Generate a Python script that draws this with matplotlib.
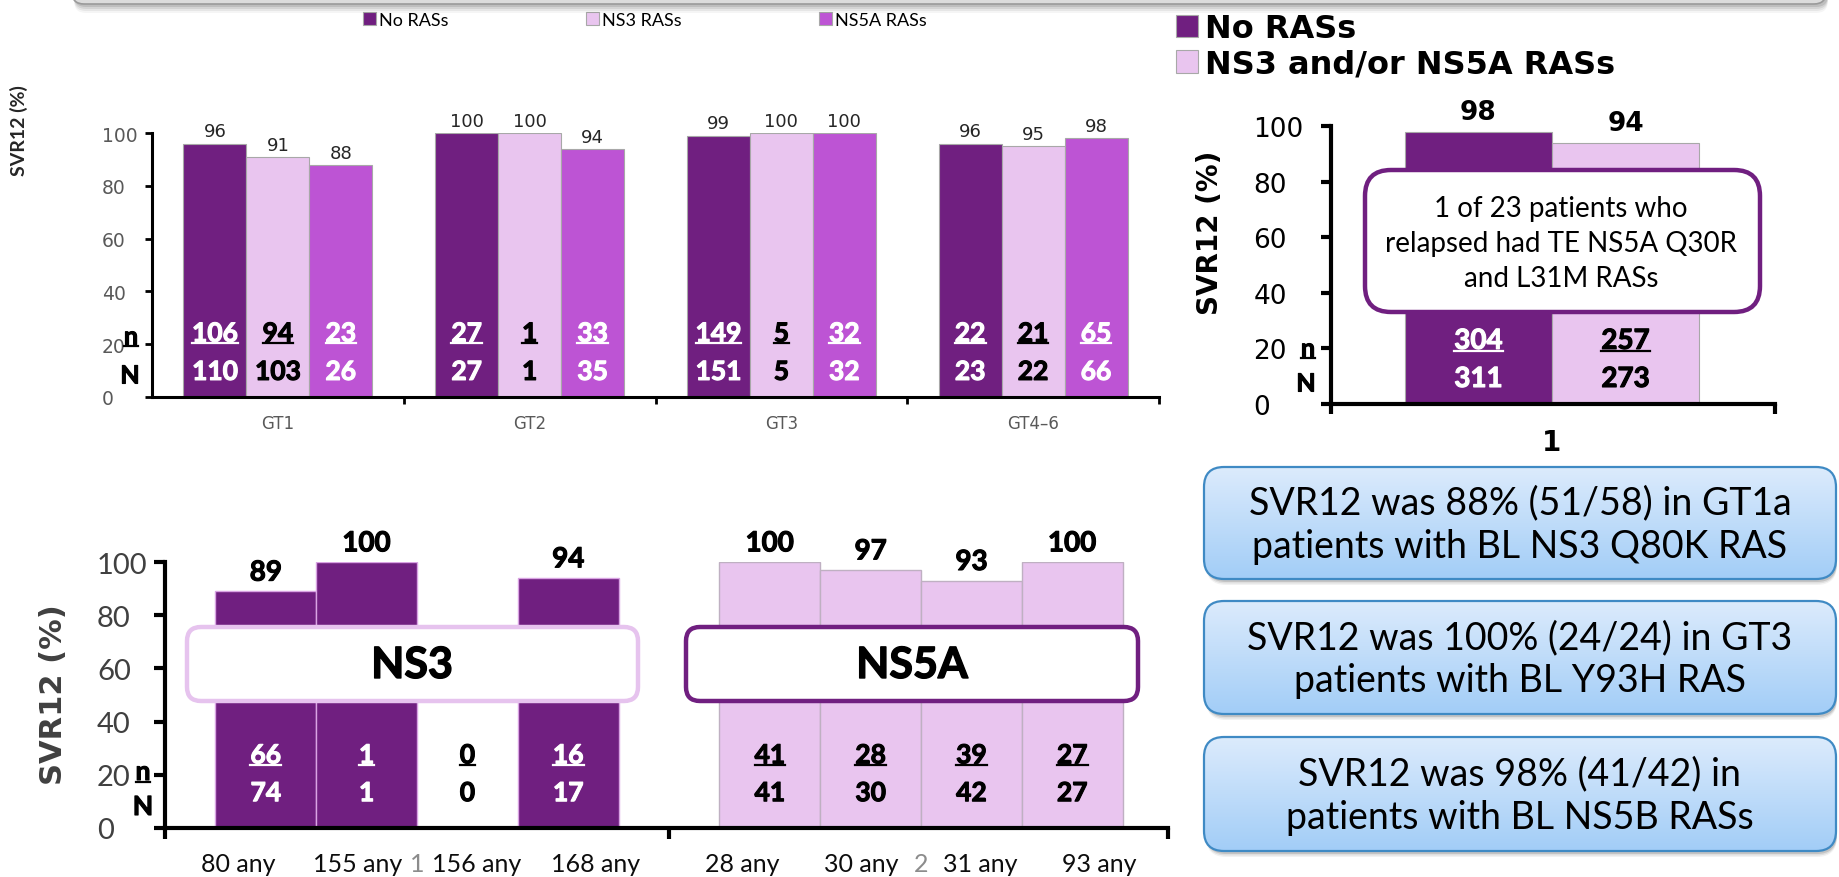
import numpy as np
import matplotlib
matplotlib.use('Agg')
import matplotlib.pyplot as plt
import matplotlib.patheffects as pe
from matplotlib.patches import FancyBboxPatch
from matplotlib.lines import Line2D
from matplotlib.colors import LinearSegmentedColormap

W, H = 1839, 878

# colours of the three groups
DARK = '#701f80'
LIGHT = '#e9c5ef'
MID = '#bd54d4'

CAL = 'Lato'          # stands in for Calibri
VER = 'DejaVu Sans'   # stands in for Verdana

# top left: SVR12 by genotype
genotypes = ['GT1', 'GT2', 'GT3', 'GT4–6']
gt_series = ['No RASs', 'NS3 RASs', 'NS5A RASs']
gt_svr = [[96, 100, 99, 96], [91, 100, 100, 95], [88, 94, 100, 98]]
gt_n = [[106, 27, 149, 22], [94, 1, 5, 21], [23, 33, 32, 65]]
gt_N = [[110, 27, 151, 23], [103, 1, 5, 22], [26, 35, 32, 66]]

# top right: overall
all_series = ['No RASs', 'NS3 and/or NS5A RASs']
all_svr = [98, 94]
all_n = [304, 257]
all_N = [311, 273]

# bottom: by RAS position
ns3_pos = ['80 any', '155 any', '156 any', '168 any']
ns3_svr = [89, 100, 0, 94]
ns3_n = [66, 1, 0, 16]
ns3_N = [74, 1, 0, 17]
ns5a_pos = ['28 any', '30 any', '31 any', '93 any']
ns5a_svr = [100, 97, 93, 100]
ns5a_n = [41, 28, 39, 27]
ns5a_N = [41, 30, 42, 27]

callout = '1 of 23 patients who\nrelapsed had TE NS5A Q30R\nand L31M RASs'
notes = ['SVR12 was 88% (51/58) in GT1a\npatients with BL NS3 Q80K RAS',
         'SVR12 was 100% (24/24) in GT3\npatients with BL Y93H RAS',
         'SVR12 was 98% (41/42) in\npatients with BL NS5B RASs']

fig = plt.figure(figsize=(W / 100, H / 100), dpi=100)
fig.patch.set_facecolor('white')
underlined = []


def px_axes(x0, y0, x1, y1):
    # axes placed by pixel box (y measured from the top)
    return fig.add_axes([x0 / W, 1 - y1 / H, (x1 - x0) / W, (y1 - y0) / H])


def ftext(x, y, s, **kw):
    return fig.text(x / W, 1 - y / H, s, **kw)


def heavy(c, w=0.8):
    # Calibri bold is heavier than Lato bold, thicken the strokes a bit
    return [pe.withStroke(linewidth=w, foreground=c)]


def style(ax, lw, tlen, twid, pad, font, size, color):
    for s in ['top', 'right']:
        ax.spines[s].set_visible(False)
    ax.spines['left'].set_linewidth(lw)
    ax.spines['bottom'].set_linewidth(lw)
    ax.tick_params(axis='y', direction='out', length=tlen, width=twid, pad=pad)
    ax.tick_params(axis='x', which='major', length=0)
    ax.tick_params(axis='x', which='minor', direction='out', length=tlen, width=twid)
    ax.set_yticks(range(0, 101, 20))
    ax.set_yticklabels([str(v) for v in range(0, 101, 20)], family=font, fontsize=size, color=color)
    # the slide has its tick numbers left aligned
    for lab in ax.get_yticklabels():
        lab.set_horizontalalignment('left')


# ---------------- top left ----------------
ax1 = px_axes(152, 134, 1159, 398)
ax1.set_xlim(-0.5, 3.5)
ax1.set_ylim(0, 100)
x = np.arange(len(genotypes))
w = 0.25
cols = [DARK, LIGHT, MID]
for i in range(3):
    xs = x + (i - 1) * w
    ax1.bar(xs, gt_svr[i], w, color=cols[i], edgecolor='#a8a8a8', linewidth=0.8, label=gt_series[i])
    tc = 'black' if i == 1 else 'white'
    for xx, v, n, N in zip(xs, gt_svr[i], gt_n[i], gt_N[i]):
        ax1.text(xx, v + 1.2, str(v), ha='center', va='bottom', fontsize=13, family=VER, color='#262626')
        t = ax1.text(xx, 24, str(n), ha='center', va='center', fontsize=19, weight='bold', family=CAL,
                     color=tc, path_effects=heavy(tc))
        underlined.append((t, tc))
        ax1.text(xx, 9.5, str(N), ha='center', va='center', fontsize=19, weight='bold', family=CAL,
                 color=tc, path_effects=heavy(tc))
style(ax1, 2.2, 5, 2, 31, VER, 13.5, '#595959')
ax1.set_xticks(x)
ax1.set_xticklabels(genotypes, family=VER, fontsize=12, color='#595959')
ax1.tick_params(axis='x', which='major', pad=12)
ax1.set_xticks([0.5, 1.5, 2.5, 3.5], minor=True)
ax1.legend(loc='center', bbox_to_anchor=(645 / W, 1 - 21 / H), bbox_transform=fig.transFigure,
           ncol=3, frameon=False, handlelength=0.7, handleheight=0.7, handletextpad=0.2,
           columnspacing=7.6, borderpad=0, borderaxespad=0,
           prop={'family': CAL, 'size': 13})
ftext(19, 131, 'SVR12 (%)', rotation=90, ha='center', va='center', family=CAL, weight='bold',
      fontsize=14, color='#262626')
t = ftext(131, 338, 'n', ha='center', va='center', family=CAL, weight='bold', fontsize=18,
          path_effects=heavy('black'))
underlined.append((t, 'black'))
ftext(130, 377, 'N', ha='center', va='center', family=CAL, weight='bold', fontsize=18,
      path_effects=heavy('black'))

# ---------------- top right ----------------
ax2 = px_axes(1331, 127, 1775, 405)
ax2.set_xlim(-0.526, 0.531)
ax2.set_ylim(0, 100)
bw = 0.35
for i, xx in enumerate([-bw / 2, bw / 2]):
    ax2.bar(xx, all_svr[i], bw, color=[DARK, LIGHT][i], edgecolor='#a8a8a8', linewidth=0.8,
            label=all_series[i])
    tc = 'white' if i == 0 else 'black'
    ax2.text(xx, all_svr[i] + 7.2, str(all_svr[i]), ha='center', va='center', fontsize=19,
             weight='bold', family=VER)
    t = ax2.text(xx, 22.7, str(all_n[i]), ha='center', va='center', fontsize=20, weight='bold',
                 family=CAL, color=tc, path_effects=heavy(tc))
    underlined.append((t, tc))
    ax2.text(xx, 9.0, str(all_N[i]), ha='center', va='center', fontsize=20, weight='bold',
             family=CAL, color=tc, path_effects=heavy(tc))
style(ax2, 3, 7, 3, 49, VER, 19, 'black')
ax2.set_xticks([0])
ax2.set_xticklabels(['1'], family=VER, fontsize=20, weight='bold')
ax2.tick_params(axis='x', which='major', pad=17)
ax2.set_xticks([-0.526, 0.531], minor=True)
ax2.legend(loc='upper left', bbox_to_anchor=(1176 / W, 1 - 14 / H), bbox_transform=fig.transFigure,
           frameon=False, handlelength=0.7, handleheight=0.7, handletextpad=0.2, labelspacing=0.15,
           borderpad=0, borderaxespad=0, prop={'family': VER, 'weight': 'bold', 'size': 23})
ftext(1210, 233, 'SVR12 (%)', rotation=90, ha='center', va='center', family=VER, weight='bold',
      fontsize=20)
t = ftext(1308, 350, 'n', ha='center', va='center', family=CAL, weight='bold', fontsize=18,
          path_effects=heavy('black'))
underlined.append((t, 'black'))
ftext(1306, 385, 'N', ha='center', va='center', family=CAL, weight='bold', fontsize=18,
      path_effects=heavy('black'))

# ---------------- bottom ----------------
ax3 = px_axes(165, 563, 1168, 829)
ax3.set_xlim(-1, 8.95)
ax3.set_ylim(0, 100)
groups = [(ns3_pos, ns3_svr, ns3_n, ns3_N, DARK, '#d9a3e3', 0),
          (ns5a_pos, ns5a_svr, ns5a_n, ns5a_N, LIGHT, '#bfb0c2', 5)]
for labels, svr, nn, NN, col, ec, start in groups:
    pos = np.arange(len(labels)) + start
    ax3.bar(pos, svr, 1.0, color=col, edgecolor=ec, linewidth=1)
    mid = pos.mean()
    for p, lab, v, n, N in zip(pos, labels, svr, nn, NN):
        tc = 'white' if (col == DARK and n > 0) else 'black'
        if n > 0:
            ax3.text(p, v + 7, str(v), ha='center', va='center', fontsize=20, weight='bold', family=CAL,
                     path_effects=heavy('black'))
        t = ax3.text(p, 27.3, str(n), ha='center', va='center', fontsize=19, weight='bold',
                     family=CAL, color=tc, path_effects=heavy(tc))
        underlined.append((t, tc))
        ax3.text(p, 13.1, str(N), ha='center', va='center', fontsize=19, weight='bold',
                 family=CAL, color=tc, path_effects=heavy(tc))
        ax3.text(mid + (p - mid) * 1.18, -13.5, lab, ha='center', va='center', fontsize=18,
                 family=CAL, color='#0d0d0d')
    ax3.text(mid, -13.5, str(start // 5 + 1), ha='center', va='center', fontsize=18,
             family=CAL, color='#8c8c8c')
style(ax3, 3, 8, 3, 41, CAL, 21, '#404040')
ax3.set_xticks([])
ax3.set_xticks([-1, 4, 8.95], minor=True)
ftext(53, 695, 'SVR12 (%)', rotation=90, ha='center', va='center', family=VER, weight='bold',
      fontsize=22, color='#404040')
t = ftext(143, 773, 'n', ha='center', va='center', family=CAL, weight='bold', fontsize=19,
          path_effects=heavy('black'))
underlined.append((t, 'black'))
ftext(143, 808, 'N', ha='center', va='center', family=CAL, weight='bold', fontsize=19,
      path_effects=heavy('black'))

# ---------------- overlay: boxes in pixel space ----------------
ov = fig.add_axes([0, 0, 1, 1], zorder=5)
ov.set_xlim(0, W)
ov.set_ylim(H, 0)
ov.set_axis_off()


def rbox(x0, y0, x1, y1, r, **kw):
    p = FancyBboxPatch((x0, y0), x1 - x0, y1 - y0, boxstyle=f'round,pad=0,rounding_size={r}',
                       mutation_aspect=1, **kw)
    ov.add_patch(p)
    return p


# title bar remnant at the top with its shadow
for k, a in enumerate([0.10, 0.08, 0.06, 0.04]):
    rbox(72 + 2, -40, 1826 + 2, 6 + 2 * (k + 1), 12, fc='#000000', ec='none', alpha=a)
rbox(72, -40, 1826, 5, 12, fc='#dcdcdc', ec='#9a9a9a', lw=1.2)

# group boxes on the bottom chart
rbox(187, 628, 638, 702, 14, fc='white', ec='#e6c3ee', lw=3.2)
ov.text(412, 666, 'NS3', ha='center', va='center', family=CAL, weight='bold', fontsize=31,
        path_effects=heavy('black', 1.0))
rbox(686, 628, 1138, 702, 14, fc='white', ec=DARK, lw=3.2)
ov.text(912, 666, 'NS5A', ha='center', va='center', family=CAL, weight='bold', fontsize=31,
        path_effects=heavy('black', 1.0))

# callout on the top right chart
rbox(1365, 171, 1760, 313, 26, fc='white', ec=DARK, lw=3.2)
ov.text(1561, 244, callout, ha='center', va='center', family=CAL, fontsize=20, linespacing=1.45)

# blue notes on the right
blue = LinearSegmentedColormap.from_list('blue', ['#dcebfc', '#a2cdf7'])
grad = np.linspace(0, 1, 256).reshape(-1, 1)
for (y0, y1), s in zip([(468, 580), (602, 715), (738, 852)], notes):
    for k, a in enumerate([0.12, 0.08, 0.05]):
        rbox(1204 + 2, y0 + 3 + k, 1836 + 1, y1 + 3 + k * 1.5, 20, fc='#000000', ec='none', alpha=a)
    p = rbox(1204, y0, 1836, y1, 20, fc='none', ec='#3f8ac4', lw=1.6, zorder=3)
    im = ov.imshow(grad, cmap=blue, extent=(1204, 1836, y1, y0), aspect='auto', zorder=2)
    im.set_clip_path(p)
    ov.text((1204 + 1836) / 2, (y0 + y1) / 2 + 1, s, ha='center', va='center', family=CAL,
            fontsize=27, linespacing=1.25, zorder=4)
ov.set_xlim(0, W)
ov.set_ylim(H, 0)

# underline the n values
fig.canvas.draw()
r = fig.canvas.get_renderer()
for t, c in underlined:
    bb = t.get_window_extent(r)
    y = bb.y0 + 0.1 * bb.height
    fig.add_artist(Line2D([bb.x0 / W, bb.x1 / W], [y / H, y / H], transform=fig.transFigure,
                          color=c, lw=1.6))

fig.savefig('out.png', dpi=100)
